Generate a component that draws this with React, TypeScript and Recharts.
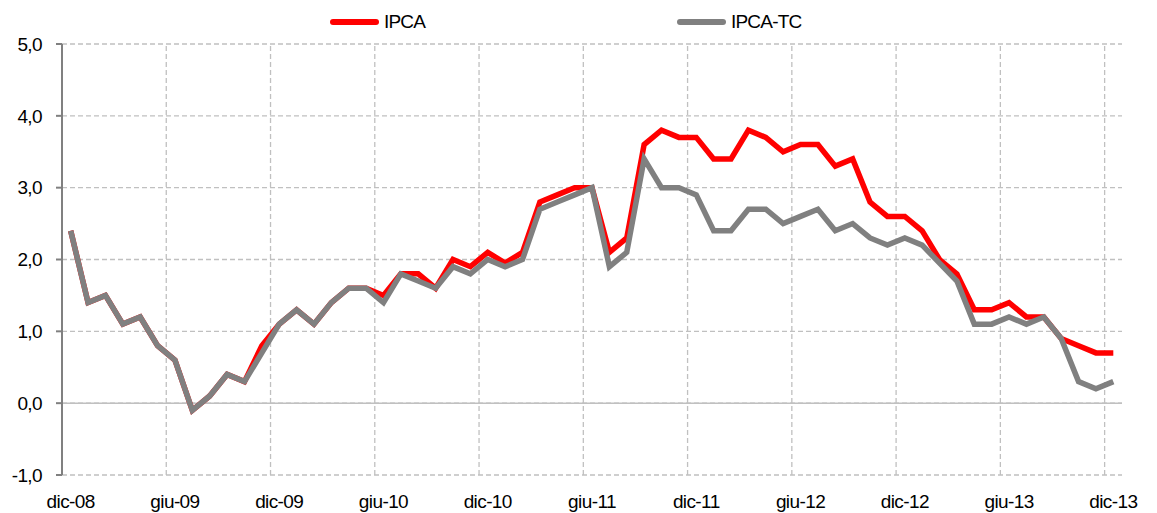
import React from 'react';
import { LineChart, Line, XAxis, YAxis, CartesianGrid, ReferenceLine } from 'recharts';

// monthly values, dic-08 .. dic-13
const IPCA = [
  2.4, 1.4, 1.5, 1.1, 1.2, 0.8, 0.6, -0.1, 0.1, 0.4, 0.3, 0.8,
  1.1, 1.3, 1.1, 1.4, 1.6, 1.6, 1.5, 1.8, 1.8, 1.6, 2.0, 1.9,
  2.1, 1.95, 2.1, 2.8, 2.9, 3.0, 3.0, 2.1, 2.3, 3.6, 3.8, 3.7,
  3.7, 3.4, 3.4, 3.8, 3.7, 3.5, 3.6, 3.6, 3.3, 3.4, 2.8, 2.6,
  2.6, 2.4, 2.0, 1.8, 1.3, 1.3, 1.4, 1.2, 1.2, 0.9, 0.8, 0.7,
  0.7,
];

const IPCA_TC = [
  2.4, 1.4, 1.5, 1.1, 1.2, 0.8, 0.6, -0.1, 0.1, 0.4, 0.3, 0.7,
  1.1, 1.3, 1.1, 1.4, 1.6, 1.6, 1.4, 1.8, 1.7, 1.6, 1.9, 1.8,
  2.0, 1.9, 2.0, 2.7, 2.8, 2.9, 3.0, 1.9, 2.1, 3.4, 3.0, 3.0,
  2.9, 2.4, 2.4, 2.7, 2.7, 2.5, 2.6, 2.7, 2.4, 2.5, 2.3, 2.2,
  2.3, 2.2, 1.95, 1.7, 1.1, 1.1, 1.2, 1.1, 1.2, 0.9, 0.3, 0.2,
  0.3,
];

const TICK_LABELS = ['dic-08', 'giu-09', 'dic-09', 'giu-10', 'dic-10', 'giu-11', 'dic-11', 'giu-12', 'dic-12', 'giu-13', 'dic-13'];
const TICK_POS = [0, 6, 12, 18, 24, 30, 36, 42, 48, 54, 60];
// category boundaries where the vertical grid lines sit
const GRID_X = [5.5, 11.5, 17.5, 23.5, 29.5, 35.5, 41.5, 47.5, 53.5, 59.5];
const Y_TICKS = [-1, 0, 1, 2, 3, 4, 5];

const FONT = "'Liberation Sans', Arial, sans-serif";
const GRID = '#c0c0c0';

const data = IPCA.map((v, i) => ({ idx: i, ipca: v, tc: IPCA_TC[i] }));

function LegendItem({ left, color, label }: { left: number; color: string; label: string }) {
  return (
    <div style={{ position: 'absolute', left, top: 10, display: 'flex', alignItems: 'center', height: 24 }}>
      <div style={{ width: 49, height: 6, borderRadius: 3, background: color }} />
      <span style={{ marginLeft: 5, fontFamily: FONT, fontSize: 19, letterSpacing: -0.8, color: '#000' }}>{label}</span>
    </div>
  );
}

export default function App() {
  return (
    <div style={{ position: 'absolute', left: 0, top: 0, width: 1157, height: 513, background: '#fff' }}>
      <LineChart width={1157} height={513} data={data} margin={{ top: 44, right: 35, bottom: 0, left: 0 }}>
        <CartesianGrid vertical={false} stroke={GRID} strokeDasharray="5 3" strokeWidth={1.3} />
        {GRID_X.map((x) => (
          <ReferenceLine key={x} x={x} stroke={GRID} strokeDasharray="5 3" strokeWidth={1.3} />
        ))}
        <ReferenceLine y={0} stroke={GRID} strokeWidth={1.5} />
        <XAxis
          dataKey="idx"
          type="number"
          domain={[-0.5, 60.5]}
          ticks={TICK_POS}
          tickFormatter={(v) => TICK_LABELS[TICK_POS.indexOf(v)]}
          axisLine={false}
          tickLine={false}
          tickMargin={14}
          height={38}
          interval={0}
          tick={{ fill: '#000', fontSize: 19, fontFamily: FONT, letterSpacing: -0.6 }}
        />
        <YAxis
          domain={[-1, 5]}
          ticks={Y_TICKS}
          width={62}
          interval={0}
          tickFormatter={(v) => v.toFixed(1).replace('.', ',')}
          axisLine={{ stroke: '#808080', strokeWidth: 2 }}
          tickLine={{ stroke: '#808080', strokeWidth: 2 }}
          tickSize={6}
          tickMargin={14}
          tick={{ fill: '#000', fontSize: 19, fontFamily: FONT, letterSpacing: -0.6 }}
        />
        <Line type="linear" dataKey="ipca" stroke="#ff0000" strokeWidth={5.5} dot={false} isAnimationActive={false} />
        <Line type="linear" dataKey="tc" stroke="#808080" strokeWidth={5.5} dot={false} isAnimationActive={false} />
      </LineChart>
      <LegendItem left={330} color="#ff0000" label="IPCA" />
      <LegendItem left={677} color="#808080" label="IPCA-TC" />
    </div>
  );
}
